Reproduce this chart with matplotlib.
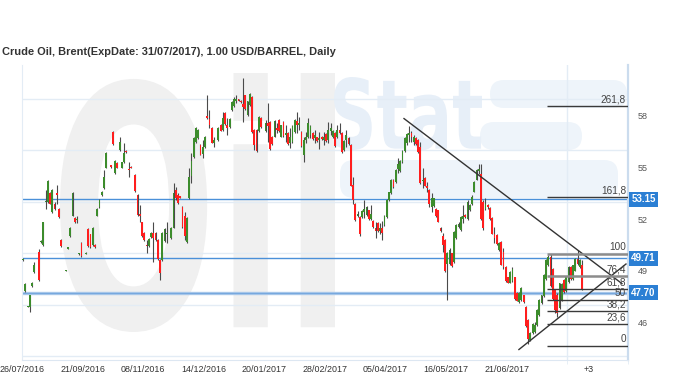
import matplotlib
matplotlib.use("Agg")
import numpy as np
import matplotlib.pyplot as plt
from matplotlib.textpath import TextPath
from matplotlib.patches import PathPatch, FancyBboxPatch
from matplotlib.font_manager import FontProperties
from matplotlib.transforms import Affine2D, IdentityTransform, blended_transform_factory

plt.rcParams['font.family'] = ['Liberation Sans', 'DejaVu Sans']

title = "Crude Oil, Brent(ExpDate: 31/07/2017), 1.00 USD/BARREL, Daily"

# daily OHLC, None = day missing in the feed
opens = [
    49.6, 47.8, 46.85, 46.9, 48.1, 48.9, None,
    50.1, 50.65, 50.5, 53.0, 53.0, 53.5, 52.4, 52.9, 53.5, 52.6, 50.8, None,
    48.98, 50.28, 51.0, 52.2, 52.05, 51.95, 49.95, 50.6, None,
    49.98, 51.4, 51.1, 50.5, 50.5, 52.2, 52.7, 53.4, 53.8, 55.0, None,
    55.1, 57.05, 54.7, 55.25, 56.0, 55.0, 55.3, 55.95, 54.9, 55.05, None,
    54.55, 53.4, 52.3, 51.8, 51.2, 50.5, 50.4, 50.95, 51.2, 51.2, 50.8, 49.6, 49.6, 50.7, 51.1, None,
    50.9, 51.5, 53.7, 53.4, 53.3, 52.7, 52.2, 50.65, 53.2, 54.5, 55.6, 56.5, 56.7, 56.3, 55.8, 56.2, 58.0, 57.8, 57.3, 56.4, None,
    56.6, 57.5, 57.2, 58.2, 57.5, 57.35, 58.35, 58.6, 58.9, 58.95, 58.9, 58.7, 59.2, 58.05, 58.65, 59.1, 57.2, 57.2, 57.1, 57.9, None,
    57.1, 57.6, 57.65, 56.8, 56.8, 57.3, 57.75, 56.8, 57.65, 56.9, 57.0, 56.4, 56.5, 57.05, 57.7, 57.5, 57.05, 55.7, 56.6, 56.8,
    56.9, 57.0, 56.7, 56.75, 56.6, 56.8, 56.6, 56.95, 56.6, 57.1, 56.75, 57.0, 56.8, 57.2, 57.0, 56.0, 56.6, 56.7, 56.3, 54.0,
    52.9, 52.2, 52.1, 52.1, 52.4, 52.25, 52.5, 52.0, 51.9, 51.5, 51.75, 51.3, 51.5, 51.65, 52.1, 53.1, 53.5, 54.3, 54.15, 54.9,
    54.8, 55.3, 55.95, 56.4, 56.9, 57.0, 56.5, 56.7, 56.6, 56.2, 54.2, 54.4, 53.9, 53.7, 52.7, 52.75, 52.6, 52.5, 51.5, 51.0,
    50.8, 49.4, 49.4, 50.0, 49.5, 50.9, 51.55, 51.35, 52.0, 52.25, 52.0, 52.5, 52.9, 53.6, 54.3, 54.8, 54.6, 53.0, 52.6, 52.8,
    52.65, 52.05, 51.1, 51.05, 50.2, 50.65, 50.1, 49.2, 48.6, 48.3, 48.4, 48.6, 47.7, 47.15, 47.3, 47.55, 46.9, 46.1, 44.95, 45.35,
    45.4, 45.8, 46.4, 47.1, 47.5, 48.5, 49.3, 49.8, 49.1, 47.9, 47.6, 46.8, 47.3, 48.45, 47.8, 48.35, 49.2, 48.5, 49.0, 49.7, 49.2, 49.3,
]
highs = [
    49.75, 48.25, 46.95, 47.6, 48.35, 49.5, None,
    50.25, 50.75, 51.85, 53.7, 54.25, 53.6, 53.75, 53.0, 54.0, 52.65, 50.85, None,
    49.05, 50.35, 51.55, 53.55, 52.1, 52.2, 50.05, 50.65, None,
    50.08, 51.45, 51.15, 51.55, 50.55, 52.65, 53.15, 53.65, 54.85, 55.9, None,
    55.15, 57.1, 55.45, 55.3, 56.75, 55.35, 56.4, 56.0, 55.3, 55.1, None,
    54.6, 53.45, 52.8, 51.85, 51.25, 50.8, 50.9, 51.25, 51.8, 51.25, 50.85, 49.65, 51.25, 51.45, 51.8, None,
    51.55, 54.1, 53.85, 53.5, 53.35, 52.75, 52.4, 52.1, 55.0, 55.85, 56.75, 57.35, 57.25, 56.35, 56.6, 56.85, 59.2, 58.35, 57.35, 56.8, None,
    57.35, 57.55, 58.25, 58.25, 57.9, 57.9, 58.85, 59.1, 59.2, 59.0, 58.95, 60.2, 59.25, 58.9, 59.35, 59.15, 57.25, 57.25, 58.0, 57.95, None,
    57.75, 58.75, 57.7, 56.85, 57.75, 57.6, 57.8, 57.5, 57.7, 57.5, 57.05, 57.3, 57.5, 57.8, 58.25, 57.95, 57.1, 56.8, 57.05, 57.9,
    57.5, 57.05, 57.2, 56.8, 57.05, 56.85, 57.05, 57.0, 57.65, 57.6, 57.2, 57.05, 57.5, 57.6, 57.05, 56.6, 57.2, 56.75, 56.35, 54.45,
    52.95, 52.45, 52.15, 52.5, 53.1, 52.75, 52.55, 52.8, 51.95, 51.8, 51.8, 51.75, 51.9, 52.25, 53.15, 53.6, 54.35, 54.35, 54.9, 55.55,
    55.45, 56.0, 56.75, 57.0, 57.4, 57.1, 56.9, 56.75, 56.65, 56.5, 55.0, 54.45, 54.15, 53.75, 53.5, 53.25, 52.65, 52.55, 51.55, 51.2,
    50.85, 50.1, 50.3, 50.05, 51.3, 51.7, 51.8, 52.15, 52.8, 52.3, 53.1, 52.85, 53.4, 54.2, 54.9, 55.2, 55.2, 53.1, 53.2, 52.85,
    52.7, 52.1, 51.55, 51.1, 50.65, 50.7, 50.3, 49.25, 48.65, 48.95, 49.2, 48.65, 47.75, 47.75, 48.05, 47.6, 46.95, 46.15, 45.4, 45.95,
    46.0, 46.75, 47.35, 47.6, 48.8, 49.65, 49.9, 49.96, 49.15, 47.95, 47.7, 48.3, 48.3, 48.5, 48.7, 49.25, 49.25, 49.35, 49.75, 50.2, 49.65, 49.6,
]
lows = [
    49.55, 47.75, 46.85, 46.6, 48.05, 48.85, None,
    48.4, 50.6, 50.45, 52.6, 52.95, 52.85, 52.35, 52.55, 52.9, 52.05, 50.35, None,
    48.95, 50.25, 50.95, 52.15, 51.75, 51.75, 49.9, 49.8, None,
    49.95, 50.35, 50.3, 50.45, 50.3, 52.15, 52.65, 53.35, 53.75, 54.95, None,
    55.0, 56.3, 54.65, 54.95, 55.95, 54.95, 55.25, 55.85, 54.45, 54.95, None,
    53.6, 52.2, 51.8, 50.95, 50.7, 50.0, 50.35, 50.9, 49.5, 50.7, 49.6, 48.45, 49.55, 50.65, 50.6, None,
    50.85, 51.45, 53.1, 52.9, 53.2, 51.5, 50.8, 50.6, 53.15, 54.1, 55.55, 56.45, 56.65, 55.7, 55.55, 56.15, 57.8, 57.3, 56.4, 56.2, None,
    56.55, 57.1, 57.15, 57.5, 56.9, 57.3, 58.3, 58.55, 58.75, 58.85, 58.75, 57.65, 58.35, 58.0, 58.6, 57.0, 56.0, 55.9, 57.05, 57.3, None,
    57.05, 56.5, 56.0, 56.3, 56.75, 57.0, 57.05, 56.75, 56.8, 56.5, 56.3, 56.15, 56.4, 57.0, 57.0, 57.2, 56.2, 55.3, 56.4, 56.7,
    56.7, 56.6, 56.4, 56.5, 56.1, 56.6, 56.3, 56.5, 56.4, 56.9, 56.7, 56.2, 56.7, 56.95, 55.85, 55.95, 56.2, 56.3, 53.9, 52.9,
    51.9, 52.1, 51.0, 52.05, 52.05, 52.2, 51.95, 51.95, 51.5, 50.9, 51.25, 51.1, 50.8, 51.6, 52.05, 53.05, 53.45, 53.8, 54.1, 54.7,
    54.75, 55.25, 55.9, 56.3, 56.5, 56.5, 56.3, 56.3, 55.85, 54.05, 53.8, 53.9, 53.6, 52.7, 52.4, 52.7, 52.1, 51.8, 51.25, 50.1,
    48.9, 47.3, 49.3, 49.2, 49.45, 50.85, 51.5, 51.3, 51.75, 52.05, 51.95, 52.45, 52.8, 53.55, 54.25, 54.6, 51.95, 51.35, 52.5, 52.6,
    51.95, 51.1, 50.6, 50.5, 50.15, 49.3, 49.1, 48.35, 48.25, 48.25, 48.35, 47.3, 47.2, 47.1, 47.25, 47.1, 45.7, 44.7, 44.9, 45.3,
    45.35, 45.75, 46.35, 47.05, 47.45, 48.45, 49.25, 48.05, 47.3, 46.55, 46.3, 46.75, 47.25, 47.7, 47.75, 48.3, 48.45, 48.45, 48.95, 49.35, 49.15, 47.85,
]
closes = [
    49.7, 48.2, 46.92, 47.6, 48.3, 49.3, None,
    48.45, 50.72, 51.8, 53.05, 54.2, 52.9, 53.7, 52.6, 53.4, 52.1, 50.4, None,
    49.02, 50.32, 51.5, 53.5, 51.8, 52.0, 50.02, 49.85, None,
    50.05, 50.4, 50.35, 51.5, 50.35, 52.6, 53.1, 53.6, 54.45, 55.85, None,
    55.05, 56.35, 55.4, 55.0, 56.5, 55.3, 55.85, 55.9, 54.85, 54.98, None,
    53.65, 52.25, 52.2, 51.0, 50.75, 50.4, 50.85, 51.2, 50.9, 50.75, 49.65, 48.85, 51.2, 51.4, 51.2, None,
    51.5, 53.5, 53.2, 52.95, 53.25, 51.55, 51.0, 52.05, 54.45, 55.4, 56.7, 57.3, 57.2, 55.75, 56.2, 56.8, 57.9, 57.5, 56.45, 56.6, None,
    57.3, 57.15, 57.9, 57.55, 57.3, 57.85, 58.8, 59.0, 59.0, 58.9, 58.8, 58.5, 58.4, 58.85, 59.3, 57.05, 56.3, 55.95, 57.95, 57.35, None,
    57.6, 57.4, 56.1, 56.35, 57.7, 57.2, 57.1, 57.45, 56.85, 57.0, 56.35, 56.8, 57.4, 57.75, 57.5, 57.6, 56.25, 56.6, 56.8, 57.6,
    57.4, 56.65, 56.9, 56.55, 56.7, 56.65, 56.8, 56.55, 57.2, 57.3, 57.15, 56.25, 57.2, 57.0, 55.9, 56.55, 56.9, 56.35, 53.95, 53.1,
    51.95, 52.3, 51.1, 52.45, 52.6, 52.7, 52.0, 52.3, 51.55, 51.3, 51.3, 51.5, 51.2, 52.2, 53.1, 53.55, 54.3, 53.85, 54.85, 55.2,
    55.4, 55.95, 56.7, 56.95, 57.0, 56.8, 56.8, 56.35, 55.9, 54.1, 54.3, 53.95, 53.8, 52.9, 53.2, 53.2, 52.15, 51.85, 51.3, 50.5,
    48.95, 50.0, 50.2, 49.25, 51.25, 51.65, 51.7, 52.1, 52.2, 52.1, 53.0, 52.8, 53.3, 54.15, 54.85, 54.9, 52.0, 51.45, 52.9, 52.7,
    52.0, 51.15, 50.9, 50.55, 50.6, 49.35, 49.2, 48.4, 48.3, 48.9, 49.1, 47.35, 47.25, 47.7, 48.0, 47.15, 45.75, 45.0, 45.35, 45.9,
    45.8, 46.7, 47.3, 47.55, 48.75, 49.6, 49.8, 48.1, 47.35, 46.7, 46.5, 48.25, 48.2, 47.75, 48.6, 49.2, 48.5, 49.3, 49.7, 49.4, 49.6, 47.9,
]

date_labels = ["26/07/2016", "21/09/2016", "08/11/2016", "14/12/2016", "20/01/2017",
               "28/02/2017", "05/04/2017", "16/05/2017", "21/06/2017"]
bars_per_grid = 27
n_slots = 270
future_label_pos = 252.6

# horizontal price markers
price_levels = [53.15, 49.71, 47.70]

# trend lines (slot, price)
down_line_x = [170.2, 267.3]
down_line_y = [57.85, 48.24]
up_line_x = [221.4, 269.1]
up_line_y = [44.40, 49.38]

# fibonacci extension
fib_low, fib_high = 44.62, 49.96
fib_start = 233.9
fib_ratios = [0, 23.6, 38.2, 50, 61.8, 76.4, 100, 161.8, 261.8]

W, H = 680, 381
fig = plt.figure(figsize=(W / 100, H / 100), dpi=100)
ax = fig.add_axes([22 / W, 21 / H, 606 / W, 295 / H])
ax.patch.set_alpha(0)


def watermark(s, box, color):
    # box = (left, top, right, bottom) in pixels from top-left
    tp = TextPath((0, 0), s, size=100, prop=FontProperties(family='DejaVu Sans', weight='bold'))
    bb = tp.get_extents()
    x0, y0, x1, y1 = box
    tr = (Affine2D().translate(-bb.x0, -bb.y0)
          .scale((x1 - x0) / bb.width, (y1 - y0) / bb.height)
          .translate(x0, H - y1)) + IdentityTransform()
    fig.add_artist(PathPatch(tp, transform=tr, fc=color, ec='none', zorder=-2))


def wm_bar(box, color):
    x0, y0, x1, y1 = box
    fig.add_artist(FancyBboxPatch((x0, H - y1), x1 - x0, y1 - y0,
                                  boxstyle='round,pad=0,rounding_size=14',
                                  transform=IdentityTransform(), fc=color, ec='none', zorder=-3))


watermark("Oil", (60, 73, 335, 332), '#f0f0f0')
wm_bar((490, 80, 627, 108), '#eef4fa')
wm_bar((480, 122, 582, 150), '#eef4fa')
wm_bar((340, 160, 618, 198), '#eef4fa')
watermark("Stat", (334, 77, 482, 150), '#e7eff8')

o = np.array(opens, dtype=float)
h = np.array(highs, dtype=float)
l = np.array(lows, dtype=float)
c = np.array(closes, dtype=float)
x = np.arange(len(o)) + 0.5
ok = ~np.isnan(o)

green, red, wick = '#3c8c2c', '#ff1e1e', '#4a4a4a'
ax.vlines(x[ok], l[ok], h[ok], color=wick, lw=0.8, zorder=2)
body_h = np.maximum(np.abs(c - o), 0.07)
body_b = np.minimum(o, c)
cols = np.where(c >= o, green, red)
ax.bar(x[ok], body_h[ok], bottom=body_b[ok], width=0.8, color=cols[ok], linewidth=0, zorder=3)

# price level lines
ax.axhline(price_levels[0], color='#4a90d9', lw=1, zorder=1.5)
ax.axhline(price_levels[1], color='#4a90d9', lw=1, zorder=1.5)
ax.axhline(price_levels[2], color='#a6c6e9', lw=2.4, zorder=1.5)
ax.axhline(price_levels[2], color='#6fa3dd', lw=0.6, zorder=1.6)

# trend lines
ax.plot(down_line_x, down_line_y, color='#333333', lw=1, zorder=4)
ax.plot(up_line_x, up_line_y, color='#333333', lw=1, zorder=4)

# fibonacci levels
for r in fib_ratios:
    lv = fib_low + r / 100 * (fib_high - fib_low)
    if r in (100, 76.4):
        col, lw = '#8c8c8c', 1.8
    else:
        col, lw = '#3a3a3a', 1.0
    ax.plot([fib_start, n_slots], [lv, lv], color=col, lw=lw, zorder=4, solid_capstyle='butt')
    txt = ('%g' % r).replace('.', ',')
    ax.annotate(txt, (n_slots, lv), xytext=(-1.5, 1.2), textcoords='offset points',
                ha='right', va='bottom', fontsize=7.2, color='#444444', zorder=5)

# value boxes on the price axis
trans = blended_transform_factory(ax.transAxes, ax.transData)
for pv in price_levels:
    ax.annotate('%.2f' % pv, (1, pv), xycoords=trans, xytext=(2.4, 0), textcoords='offset points',
                ha='left', va='center', fontsize=7.0, color='white', fontweight='bold',
                bbox=dict(boxstyle='square,pad=0.26', fc='#2b7fd4', ec='none'),
                annotation_clip=False, zorder=6)

ax.set_xlim(0, n_slots)
ax.set_ylim(43.79, 60.97)

grid_pos = np.arange(0, n_slots + 1, bars_per_grid)
ax.set_xticks(grid_pos, minor=True)
ax.set_xticks(list(grid_pos[:len(date_labels)]) + [future_label_pos], date_labels + ['+3'])
ax.tick_params(axis='x', which='major', length=0, labelsize=6.4, labelcolor='#333333', pad=3.5)
ax.tick_params(axis='x', which='minor', length=3, color='#e3ecf5')
ax.grid(True, which='minor', axis='x', color='#e3ecf5', lw=1)

ax.yaxis.tick_right()
ax.set_yticks(np.arange(46, 59, 3))
ax.set_yticks(np.arange(44, 60, 3), minor=True)
ax.tick_params(axis='y', which='major', length=0, labelsize=6.5, labelcolor='#555555', pad=7)
ax.tick_params(axis='y', which='minor', length=0)
ax.grid(True, which='minor', axis='y', color='#e3ecf5', lw=1)
ax.set_axisbelow(True)

ax.spines['top'].set_visible(False)
ax.spines['left'].set_color('#e3ecf5')
ax.spines['bottom'].set_color('#dde7f2')
ax.spines['right'].set_color('#cbdcee')
ax.spines['right'].set_linewidth(1.6)

fig.text(2 / W, 1 - 52 / H, title, ha='left', va='center', fontsize=7.9,
         fontweight='bold', color='#333333')

fig.savefig('out.png', dpi=100, facecolor='white')
